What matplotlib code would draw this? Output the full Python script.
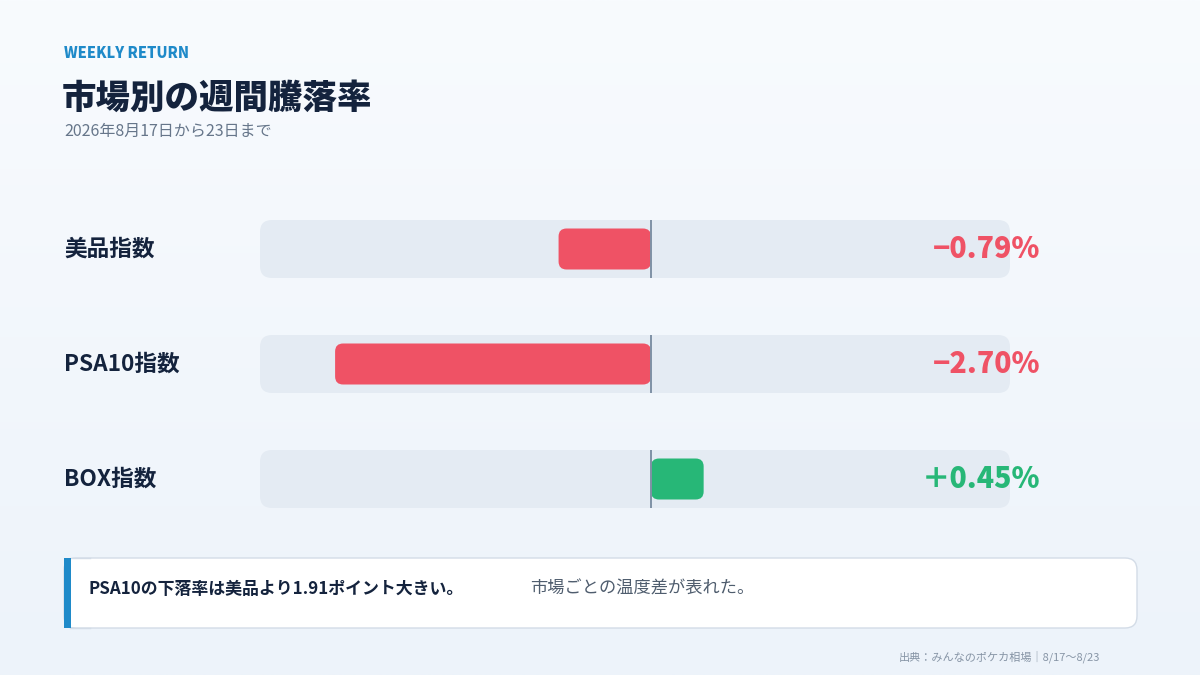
import numpy as np
import matplotlib
matplotlib.use("Agg")
import matplotlib.pyplot as plt
from matplotlib.patches import FancyBboxPatch, Rectangle
from matplotlib.transforms import blended_transform_factory

plt.rcParams['font.family'] = ['Noto Sans CJK JP', 'DejaVu Sans']

# data
markets = ["美品指数", "PSA10指数", "BOX指数"]
returns = [-0.79, -2.70, 0.45]
value_labels = ["−0.79%", "−2.70%", "＋0.45%"]
kicker = "WEEKLY RETURN"
title = "市場別の週間騰落率"
subtitle = "2026年8月17日から23日まで"
note_bold = "PSA10の下落率は美品より1.91ポイント大きい。"
note_text = "市場ごとの温度差が表れた。"
source = "出典：みんなのポケカ相場｜8/17〜8/23"

NAVY = "#14233d"
RED = "#ef5265"
GREEN = "#27b777"
BLUE = "#1f8ac9"
GRAY = "#66768a"
TRACK = "#e4ebf3"

W, H = 1200, 675
fig = plt.figure(figsize=(12, 6.75), dpi=100)

# background layer in pixel coordinates
bg = fig.add_axes([0, 0, 1, 1])
bg.set_xlim(0, W)
bg.set_ylim(H, 0)
bg.axis("off")
grad = np.linspace(0, 1, 256)[:, None]
top = np.array([0xf8, 0xfb, 0xfe]) / 255
bot = np.array([0xed, 0xf3, 0xfa]) / 255
img = top + (bot - top) * grad[..., None]
img = np.repeat(img, 2, axis=1)
bg.imshow(img, extent=[0, W, H, 0], aspect="auto", zorder=0)

bg.text(64, 54, kicker, color=BLUE, fontsize=10.5, fontweight="heavy",
        va="center", ha="left")
bg.text(62, 98, title, color=NAVY, fontsize=24.8, fontweight="black",
        va="center", ha="left")
bg.text(64, 131, subtitle, color=GRAY, fontsize=11.5, va="center", ha="left")

# note box
bg.add_patch(FancyBboxPatch((64, 558), 1073, 70,
                            boxstyle="round,pad=0,rounding_size=12",
                            fc="white", ec="#d3dce7", lw=1, zorder=2))
bg.add_patch(Rectangle((70, 558.6), 20, 68.8, fc="white", ec="none", zorder=3))
bg.plot([70, 90], [558, 558], color="#d3dce7", lw=1, zorder=3)
bg.plot([70, 90], [628, 628], color="#d3dce7", lw=1, zorder=3)
bg.add_patch(Rectangle((64, 558), 7, 70, fc=BLUE, ec="none", zorder=4))
bg.text(88, 589, note_bold, color=NAVY, fontsize=12.2, fontweight="bold",
        va="center", ha="left", zorder=5)
bg.text(530, 589, note_text, color="#4f5d6e", fontsize=12.4,
        va="center", ha="left", zorder=5)
bg.text(1100, 657, source, color="#8795a6", fontsize=8,
        va="center", ha="right", zorder=5)

# bar area: x in percent, y in rows
x0, x1, zero_px = 260, 1010, 651
px_per_pct = 117.0
row_px = 115.0
y_top = 249 - row_px / 2
ax = fig.add_axes([x0 / W, 1 - (y_top + 3 * row_px) / H,
                   (x1 - x0) / W, 3 * row_px / H])
ax.set_xlim(-(zero_px - x0) / px_per_pct, (x1 - zero_px) / px_per_pct)
ax.set_ylim(2.5, -0.5)
ax.axis("off")
ax.patch.set_alpha(0)
aspect = px_per_pct / row_px

xmin, xmax = ax.get_xlim()
track_h = 58 / row_px
bar_h = 41 / row_px
for i, (v, lab) in enumerate(zip(returns, value_labels)):
    ax.add_patch(FancyBboxPatch((xmin, i - track_h / 2), xmax - xmin, track_h,
                                boxstyle=f"round,pad=0,rounding_size={12 / px_per_pct}",
                                mutation_aspect=aspect, fc=TRACK, ec="none",
                                zorder=1))
    col = RED if v < 0 else GREEN
    left = min(v, 0)
    ax.add_patch(FancyBboxPatch((left, i - bar_h / 2), abs(v), bar_h,
                                boxstyle=f"round,pad=0,rounding_size={8 / px_per_pct}",
                                mutation_aspect=aspect, fc=col, ec="none",
                                zorder=2))
    ax.plot([0, 0], [i - track_h / 2, i + track_h / 2], color="#7f91a5",
            lw=1.4, zorder=3, solid_capstyle="butt")
    tr = blended_transform_factory(fig.transFigure, ax.transData)
    ax.text(64 / W, i, markets[i], transform=tr, color=NAVY, fontsize=16.3,
            fontweight="bold", va="center", ha="left")
    ax.text(1040 / W, i, lab, transform=tr, color=col, fontsize=20.5,
            fontweight="heavy", va="center", ha="right")

fig.savefig("out.png", dpi=100)
